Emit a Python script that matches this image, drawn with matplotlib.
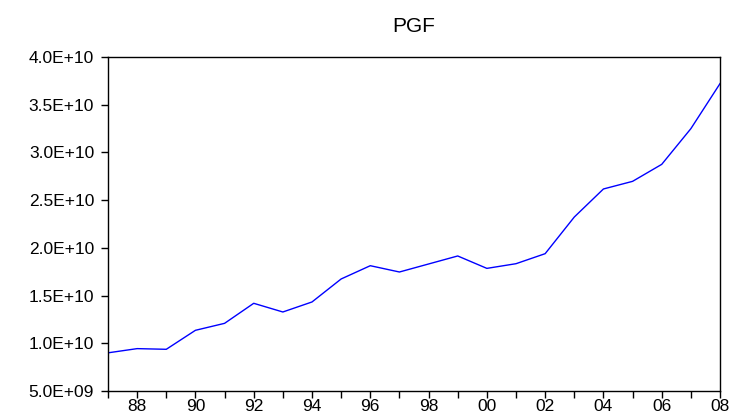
import numpy as np
import matplotlib.pyplot as plt
from matplotlib.ticker import FuncFormatter

plt.rcParams['font.family'] = ['Liberation Sans', 'DejaVu Sans']

years = list(range(1987, 2009))
pgf = [9.00, 9.44, 9.37, 11.36, 12.09, 14.19, 13.28, 14.33, 16.74, 18.13, 17.47,
       18.31, 19.15, 17.85, 18.34, 19.39, 23.23, 26.17, 26.97, 28.75, 32.49, 37.21]
pgf = np.array(pgf) * 1e9

y_ticks = [5e9, 1e10, 1.5e10, 2e10, 2.5e10, 3e10, 3.5e10, 4e10]
y_labels = ['5.0E+09', '1.0E+10', '1.5E+10', '2.0E+10', '2.5E+10', '3.0E+10', '3.5E+10', '4.0E+10']

fig = plt.figure(figsize=(7.33, 4.16), dpi=100)
ax = fig.add_axes([108/733, 1 - 391/416, 612/733, 334/416])
ax.plot(years, pgf, color='#0000ff', linewidth=1)

ax.set_xlim(1987, 2008)
ax.set_ylim(5e9, 4e10)
ax.set_yticks(y_ticks)
ax.set_yticklabels(y_labels)
ax.set_xticks(years)
ax.xaxis.set_major_formatter(FuncFormatter(lambda v, p: '%02d' % (int(v) % 100) if int(v) % 2 == 0 else ''))
ax.tick_params(direction='out', length=5, width=1, labelsize=12.5, colors='black')
ax.tick_params(axis='y', pad=5)
ax.tick_params(axis='x', pad=1)
for s in ax.spines.values():
    s.set_linewidth(1)
ax.set_title('PGF', fontsize=15, pad=18)

fig.savefig('out.png', dpi=100)
